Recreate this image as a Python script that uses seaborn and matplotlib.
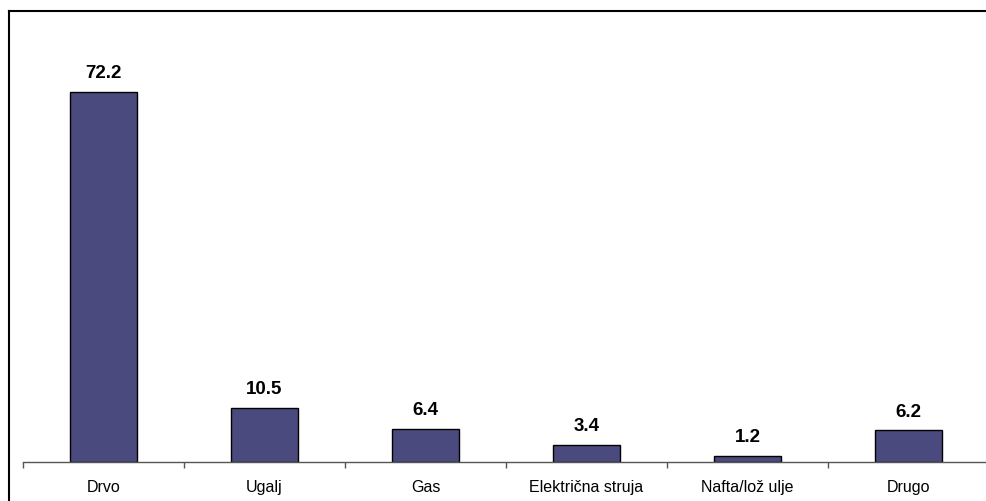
import matplotlib
matplotlib.use("Agg")
import matplotlib.pyplot as plt
import seaborn as sns
import pandas as pd
from matplotlib.lines import Line2D

categories = ["Drvo", "Ugalj", "Gas", "Električna struja", "Nafta/lož ulje", "Drugo"]
values = [72.2, 10.5, 6.4, 3.4, 1.2, 6.2]
value_labels = ["72.2", "10.5", "6.4", "3.4", "1.2", "6.2"]

sns.set_style("white")
plt.rcParams['font.family'] = ['Liberation Sans', 'DejaVu Sans']

W, H = 986, 501
fig = plt.figure(figsize=(W / 100, H / 100), dpi=100)
ax = fig.add_axes([23 / W, (H - 462) / H, 966 / W, 442 / H])

df = pd.DataFrame({"cat": categories, "val": values})
sns.barplot(data=df, x="cat", y="val", color="#4a4a7e", saturation=1,
            edgecolor="black", linewidth=1.0, width=0.41, ax=ax)

ax.set_xlim(-0.5, len(categories) - 0.5)
ax.set_ylim(0, 442 / 5.125)
ax.set_xlabel("")
ax.set_ylabel("")
ax.set_yticks([])
for s in ["top", "left", "right"]:
    ax.spines[s].set_visible(False)
ax.spines["bottom"].set_color("#555555")
ax.spines["bottom"].set_linewidth(1.0)

ax.set_xticks(range(len(categories)))
ax.set_xticklabels(categories, fontsize=11.5, color="black")
ax.tick_params(axis="x", which="major", bottom=True, length=0, pad=13)
ax.set_xticks([i - 0.5 for i in range(len(categories) + 1)], minor=True)
ax.tick_params(axis="x", which="minor", bottom=True, length=4.5, width=1,
               color="#555555", direction="out")

ax.bar_label(ax.containers[0], labels=value_labels, padding=7,
             fontsize=13.5, fontweight="bold", color="black")

# outer frame (left and top)
fig.add_artist(Line2D([8.5 / W, 8.5 / W], [0, 1 - 11 / H], transform=fig.transFigure,
                      color="black", linewidth=1.5, solid_capstyle="projecting"))
fig.add_artist(Line2D([8.5 / W, 1], [1 - 11 / H, 1 - 11 / H], transform=fig.transFigure,
                      color="black", linewidth=1.5, solid_capstyle="projecting"))

fig.savefig("out.png", dpi=100)
